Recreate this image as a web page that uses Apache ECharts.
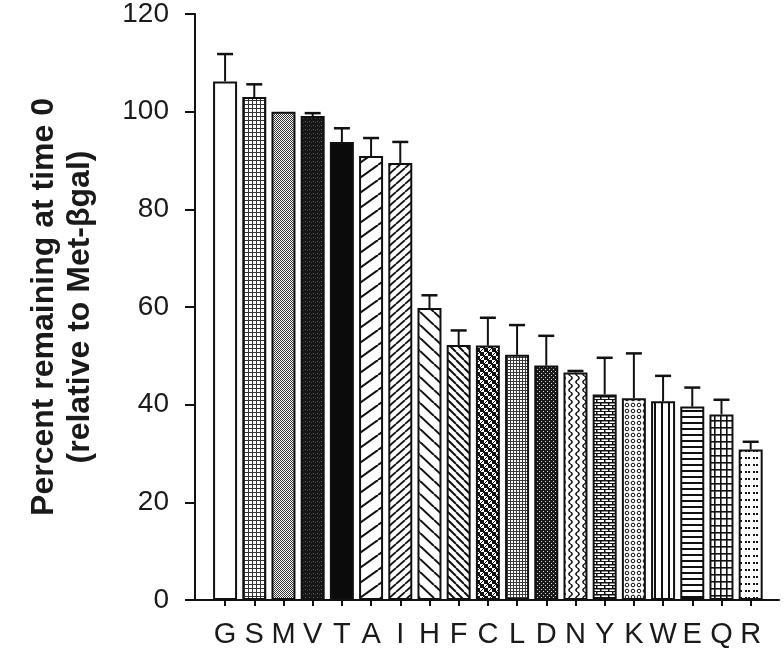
<!DOCTYPE html>
<html>
<head>
<meta charset="utf-8">
<script src="https://cdn.jsdelivr.net/npm/echarts@6/dist/echarts.min.js"></script>
<style>
html,body{margin:0;padding:0;background:#fff;}
#chart{width:783px;height:651px;}
</style>
</head>
<body>
<div id="chart"></div>
<script>
// ---- data ----
const categories = ['G','S','M','V','T','A','I','H','F','C','L','D','N','Y','K','W','E','Q','R'];
const values = [106.2, 103.0, 100.0, 99.1, 93.8, 90.9, 89.5, 59.8, 52.2, 52.1, 50.2, 48.0, 46.6, 42.1, 41.3, 40.7, 39.6, 38.0, 30.8];
const errors = [5.6, 2.6, 0, 0.6, 2.8, 3.7, 4.3, 2.6, 3.0, 5.7, 6.1, 6.1, 0.3, 7.5, 9.2, 5.2, 3.9, 3.0, 1.6];
const yTicks = [0, 20, 40, 60, 80, 100, 120];
const patternNames = ['white','fineGrid','checker','dark','solid','diagUpSparse','diagUpDense','diagDownSparse','diagDownDense','checkDiag','fineDots','darkChecker','wavy','bricks','rings','vlines','hlines','grid','dotPairs'];

// ---- patterns (styling only) ----
function makePattern(type){
  const c = document.createElement('canvas');
  const sizes = {white:[4,4],fineGrid:[4,4],checker:[2,2],dark:[4,4],solid:[4,4],diagUpSparse:[21,15],diagUpDense:[9,8],
    diagDownSparse:[14,13],diagDownDense:[8,8],checkDiag:[8,8],fineDots:[3,3],darkChecker:[4,4],wavy:[7,8],bricks:[8,6],
    rings:[6,6],vlines:[7,4],hlines:[4,6],grid:[6,7],dotPairs:[8,7]};
  const [w,h] = sizes[type];
  c.width = w; c.height = h;
  const g = c.getContext('2d');
  g.fillStyle = '#fff'; g.fillRect(0,0,w,h);
  const K = '#111';
  g.fillStyle = K; g.strokeStyle = K;
  function diag(up, lw){
    g.lineWidth = lw;
    for (let k=-1;k<=1;k++){
      g.beginPath();
      if (up){ g.moveTo(k*w, h); g.lineTo(k*w + w, 0); }
      else { g.moveTo(k*w, 0); g.lineTo(k*w + w, h); }
      g.stroke();
    }
  }
  switch(type){
    case 'white': break;
    case 'fineGrid': g.fillStyle='#333'; g.fillRect(0,0,w,1); g.fillRect(0,0,1,h); break;
    case 'checker': g.fillStyle='#333'; g.fillRect(0,0,1,1); g.fillRect(1,1,1,1); break;
    case 'dark': g.fillStyle='#151515'; g.fillRect(0,0,w,h); g.fillStyle='#666'; g.fillRect(1,1,1,1); g.fillStyle='#444'; g.fillRect(3,2,1,1); break;
    case 'solid': g.fillStyle='#0b0b0b'; g.fillRect(0,0,w,h); break;
    case 'diagUpSparse': diag(true, 2); break;
    case 'diagUpDense': diag(true, 1.8); break;
    case 'diagDownSparse': diag(false, 2); break;
    case 'diagDownDense': diag(false, 2); break;
    case 'checkDiag':
      g.fillRect(0,0,4,4); g.fillRect(4,4,4,4);
      g.lineWidth=1; g.beginPath(); g.moveTo(4,4); g.lineTo(8,0); g.moveTo(0,8); g.lineTo(4,4); g.stroke();
      break;
    case 'fineDots': g.fillStyle='#3a3a3a'; g.fillRect(0,0,w,1); g.fillRect(0,0,1,h); g.fillStyle='#fff'; g.fillRect(1,1,1,1); break;
    case 'darkChecker': g.fillStyle='#1a1a1a'; g.fillRect(0,0,w,h); g.fillStyle='#ddd'; g.fillRect(1,1,1,1); g.fillRect(3,3,1,1); break;
    case 'wavy':
      g.lineWidth=1.5; g.beginPath();
      for (let y=0;y<=h;y+=0.5){ const x = 3.5 + 1.6*Math.sin(2*Math.PI*y/h); if(y===0) g.moveTo(x,y); else g.lineTo(x,y); }
      g.stroke(); break;
    case 'bricks':
      g.fillRect(0,0,w,1.5); g.fillRect(0,0,1.5,h/2); g.fillRect(4,h/2,1.5,h/2); g.fillRect(0,3,w,1); break;
    case 'rings':
      g.lineWidth=1; g.beginPath(); g.arc(3,3,1.8,0,Math.PI*2); g.stroke(); break;
    case 'vlines': g.fillRect(3,0,2,h); break;
    case 'hlines': g.fillRect(0,2,w,2); break;
    case 'grid': g.fillRect(0,0,w,1.6); g.fillRect(0,0,1.6,h); break;
    case 'dotPairs': g.fillRect(1,2,2,2); g.fillRect(4,2,2,2); break;
  }
  return { image: c, repeat: 'repeat' };
}

const idx = categories.map((_, i) => i);
const barData = categories.map((cat, i) => ({
  value: [i, values[i]],
  itemStyle: { color: makePattern(patternNames[i]) }
}));
const errData = categories.map((cat, i) => [i, values[i], values[i] + errors[i]]);

const FONT = '"Liberation Sans", Arial, Helvetica, sans-serif';
const chart = echarts.init(document.getElementById('chart'), null, {renderer:'canvas'});
chart.setOption({
  animation: false,
  backgroundColor: '#fff',
  grid: { left: 195, right: 4, top: 14, bottom: 51, containLabel: false },
  xAxis: {
    type: 'value',
    min: -1.03, max: 18.97,
    splitLine: { show: false },
    axisLine: { show: true, onZero: false, lineStyle: { color: '#111', width: 2 } },
    axisTick: { show: true, length: 6, inside: false, customValues: idx, lineStyle: { color: '#111', width: 2 } },
    axisLabel: { customValues: idx, formatter: v => categories[Math.round(v)] || '', fontSize: 29, color: '#1a1a1a', fontFamily: FONT, margin: 20 }
  },
  yAxis: {
    type: 'value',
    min: yTicks[0], max: yTicks[yTicks.length-1], interval: 20,
    splitLine: { show: false },
    axisLine: { show: true, onZero: false, lineStyle: { color: '#111', width: 2 } },
    axisTick: { show: true, length: 10, lineStyle: { color: '#111', width: 2 } },
    axisLabel: { fontSize: 28, color: '#1a1a1a', fontFamily: FONT, margin: 26 },
    name: 'Percent remaining at time 0\n(relative to Met-βgal)',
    nameLocation: 'middle',
    nameGap: 97,
    nameTextStyle: { fontSize: 32, fontWeight: 'bold', color: '#1a1a1a', fontFamily: FONT, lineHeight: 36, align: 'center' }
  },
  series: [
    {
      type: 'bar',
      data: barData,
      barWidth: 24,
      itemStyle: { borderColor: '#111', borderWidth: 2 },
      z: 2
    },
    {
      type: 'custom',
      data: errData,
      z: 3,
      clip: false,
      renderItem: function(params, api){
        const x = api.value(0), v = api.value(1), t = api.value(2);
        if (!(t > v)) return null;
        const p0 = api.coord([x, v]);
        const p1 = api.coord([x, t]);
        const half = 8;
        return { type: 'group', children: [
          { type: 'line', shape: { x1: p0[0], y1: p0[1], x2: p1[0], y2: p1[1] }, style: { stroke: '#111', lineWidth: 2 } },
          { type: 'line', shape: { x1: p1[0]-half, y1: p1[1], x2: p1[0]+half, y2: p1[1] }, style: { stroke: '#111', lineWidth: 2.5 } }
        ]};
      }
    }
  ]
});
</script>
</body>
</html>
